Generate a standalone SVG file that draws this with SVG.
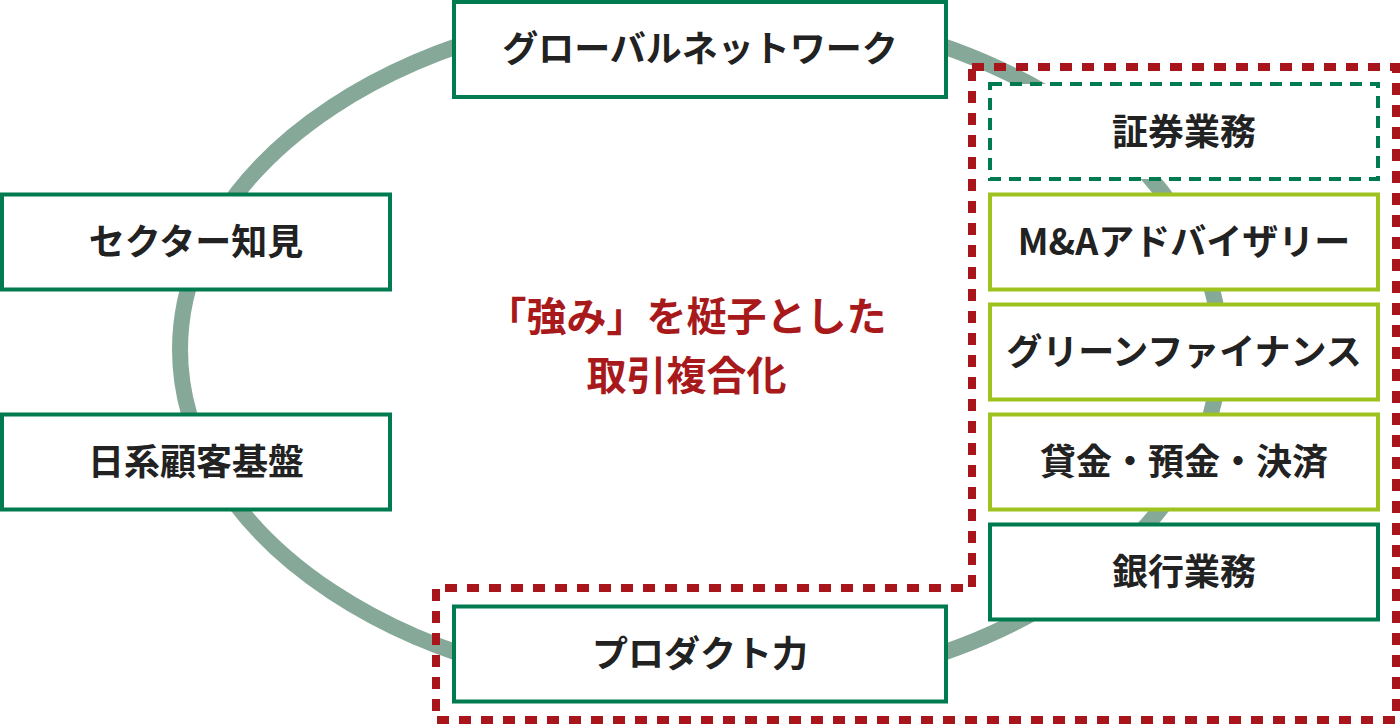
<svg xmlns="http://www.w3.org/2000/svg" width="1400" height="724" viewBox="0 0 1400 724">
<style>
.box{fill:#fff;stroke:#007a4f;stroke-width:4}
.dash{stroke-dasharray:12 8}
.lime{stroke:#9ec21f}
.lbl{font-family:"Noto Sans CJK JP","Noto Sans",sans-serif;font-weight:700;font-size:36px;fill:#222;text-anchor:middle}
.core{font-family:"Noto Sans CJK JP","Noto Sans",sans-serif;font-weight:700;font-size:40px;fill:#a8191c;text-anchor:middle}
</style>
<rect width="1400" height="724" fill="#fff"/>
<g id="connectors">
<ellipse cx="700" cy="349.5" rx="520" ry="343" fill="none" stroke="#85a898" stroke-width="16"/>
</g>
<g id="global"><rect class="box" x="454" y="2" width="492" height="95"/><text class="lbl" x="700" y="62">グローバルネットワーク</text></g>
<g id="sector"><rect class="box" x="2" y="194.5" width="388" height="95"/><text class="lbl" x="196" y="255">セクター知見</text></g>
<g id="japanese-clients"><rect class="box" x="2" y="414.5" width="388" height="95"/><text class="lbl" x="196" y="475">日系顧客基盤</text></g>
<g id="product"><rect class="box" x="454" y="606.5" width="492" height="95"/><text class="lbl" x="700" y="667">プロダクト力</text></g>
<g id="securities"><rect class="box dash" x="990" y="84" width="388" height="95"/><text class="lbl" x="1184" y="144.5">証券業務</text></g>
<g id="ma"><rect class="box lime" x="990" y="194.5" width="388" height="95"/><text class="lbl" x="1184" y="255">M&amp;Aアドバイザリー</text></g>
<g id="green-finance"><rect class="box lime" x="990" y="304.5" width="388" height="95"/><text class="lbl" x="1184" y="365">グリーンファイナンス</text></g>
<g id="lending"><rect class="box lime" x="990" y="414.5" width="388" height="95"/><text class="lbl" x="1184" y="475">貸金・預金・決済</text></g>
<g id="banking"><rect class="box" x="990" y="524.5" width="388" height="95"/><text class="lbl" x="1184" y="585">銀行業務</text></g>
<g id="scope">
<path d="M972,67 H1396 V720 H436 V588 H972 Z" fill="none" stroke="#a8151a" stroke-width="8" stroke-dasharray="12 10"/>
</g>
<g id="center-label">
<text class="core" x="686.5" y="331">「強み」を梃子とした</text>
<text class="core" x="686.5" y="390">取引複合化</text>
</g>
</svg>
